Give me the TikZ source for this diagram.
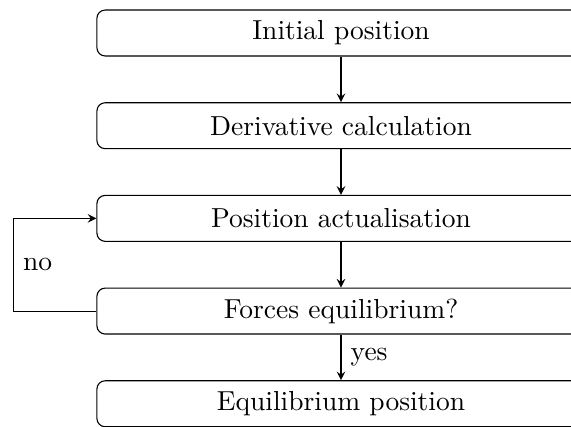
\documentclass[tikz,border=0pt]{standalone}
\usetikzlibrary{arrows}
\usetikzlibrary{positioning}

\tikzset{stage/.style={draw, rectangle, rounded corners=3pt, minimum width=177.5pt, minimum height=16.7pt}}

\begin{document}
\begin{tikzpicture}[x=0.3636pt, y=-0.3636pt, >=stealth, node distance=16.6pt]
        \useasboundingbox (0,0) rectangle (571,426);
        \node[stage] (init) at (341,33) {Initial position};
        \node[stage, below=of init] (deriv) {Derivative calculation};
        \node[stage, below=of deriv] (update) {Position actualisation};
        \node[stage, below=of update] (check) {Forces equilibrium?};
        \node[stage, below=of check] (final) {Equilibrium position};

        \draw[->] (init) -- (deriv);
        \draw[->] (deriv) -- (update);
        \draw[->] (update) -- (check);
        \draw[->] (check) -- node[right] {yes} (final);
        \draw[->] (check.west) -- ++(-83,0) |- node[pos=0.25, right] {no} (update.west);
\end{tikzpicture}
\end{document}
